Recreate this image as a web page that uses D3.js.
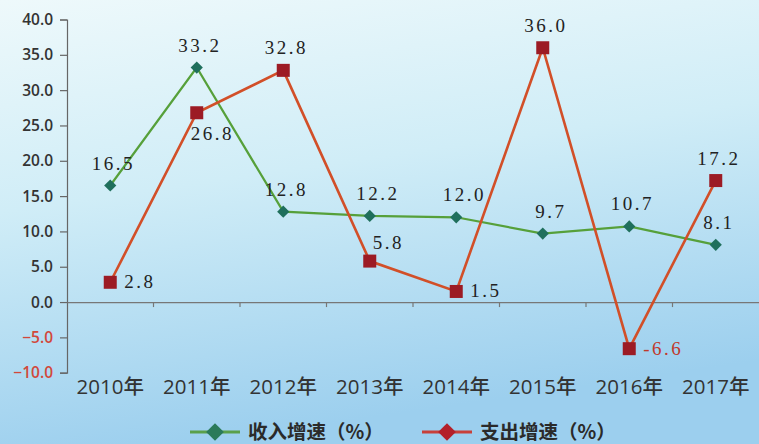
<!DOCTYPE html>
<html>
<head>
<meta charset="utf-8">
<script src="https://cdn.jsdelivr.net/npm/d3@7"></script>
<style>
  html, body { margin: 0; padding: 0; }
  svg { display: block; }
</style>
</head>
<body>
<svg id="chart" width="759" height="444"></svg>
<script>
// chart data
let years = ['2010年', '2011年', '2012年', '2013年', '2014年', '2015年', '2016年', '2017年'];
let incomeGrowth = [16.5, 33.2, 12.8, 12.2, 12.0, 9.7, 10.7, 8.1];
let spendGrowth = [2.8, 26.8, 32.8, 5.8, 1.5, 36.0, -6.6, 17.2];
let yTicks = [-10, -5, 0, 5, 10, 15, 20, 25, 30, 35, 40];
let seriesNames = ['收入增速（%）', '支出增速（%）'];
// where each value label sits around its point
let incomePlace = ['above', 'above', 'above', 'aboveR', 'aboveR', 'aboveR', 'above', 'above'];
let spendPlace = ['right', 'belowR', 'above', 'upRight', 'right', 'above', 'right', 'above'];

let svg = d3.select('#chart');
let W = 759, H = 444;

// background
let defs = svg.append('defs');
let grad = defs.append('linearGradient')
    .attr('id', 'bg')
    .attr('x1', 0).attr('y1', 0).attr('x2', 0.25).attr('y2', 1);
grad.append('stop').attr('offset', '0%').attr('stop-color', '#eef9fb');
grad.append('stop').attr('offset', '45%').attr('stop-color', '#d0edf7');
grad.append('stop').attr('offset', '100%').attr('stop-color', '#9ccfee');
svg.append('rect').attr('width', W).attr('height', H).attr('fill', 'url(#bg)');

let x = d3.scaleBand()
    .domain(years)
    .range([67, 759]);

let y = d3.scaleLinear()
    .domain([-10, 40])
    .range([372.7, 19.5]);

let cx = d => x(d) + x.bandwidth() / 2;
let axisFont = '"Open Sans", "Noto Sans CJK SC", sans-serif';

// y axis
let yAxis = svg.append('g')
    .attr('transform', 'translate(67,0)')
    .call(d3.axisLeft(y).tickValues(yTicks).tickSize(7).tickPadding(7)
        .tickFormat(d3.format('.1f')));
yAxis.select('.domain').attr('stroke', '#666').attr('stroke-width', 1.2);
yAxis.selectAll('.tick line').attr('stroke', '#666').attr('stroke-width', 1.2);
yAxis.selectAll('.tick text')
    .attr('font-family', axisFont)
    .attr('font-size', '15.5px')
    .attr('font-weight', 600)
    .attr('fill', d => d < 0 ? '#d2483a' : '#333');

// x axis along zero
let xAxis = svg.append('g')
    .attr('transform', `translate(0,${y(0)})`)
    .call(d3.axisBottom(x).tickSize(0).tickFormat(''));
xAxis.select('.domain').attr('stroke', '#777').attr('stroke-width', 1.2);
xAxis.selectAll('.tick').remove();
svg.append('g').selectAll('line')
    .data(years.slice(1))
    .enter()
    .append('line')
        .attr('x1', d => x(d)).attr('x2', d => x(d))
        .attr('y1', y(0)).attr('y2', y(0) + 5)
        .attr('stroke', '#777').attr('stroke-width', 1.2);

svg.append('g').selectAll('text')
    .data(years)
    .enter()
    .append('text')
        .attr('x', d => cx(d))
        .attr('y', 394)
        .attr('text-anchor', 'middle')
        .attr('font-family', axisFont)
        .attr('font-size', '20.5px')
        .attr('font-weight', 500)
        .attr('fill', '#333')
        .text(d => d);

// lines
const lineOf = vals => d3.line()
    .x((d, i) => cx(years[i]))
    .y(d => y(d))(vals);

svg.append('path')
    .attr('d', lineOf(incomeGrowth))
    .attr('fill', 'none')
    .attr('stroke', '#56a03a')
    .attr('stroke-width', 2.2);

svg.append('path')
    .attr('d', lineOf(spendGrowth))
    .attr('fill', 'none')
    .attr('stroke', '#d24f28')
    .attr('stroke-width', 2.6);

// markers
svg.append('g').selectAll('path')
    .data(incomeGrowth)
    .enter()
    .append('path')
        .attr('d', d3.symbol().type(d3.symbolDiamond2).size(95))
        .attr('transform', (d, i) => `translate(${cx(years[i])},${y(d)})`)
        .attr('fill', '#1f6f5c');

svg.append('g').selectAll('rect')
    .data(spendGrowth)
    .enter()
    .append('rect')
        .attr('x', (d, i) => cx(years[i]) - 6.5)
        .attr('y', d => y(d) - 6.5)
        .attr('width', 13).attr('height', 13)
        .attr('fill', '#9c1b24');

// value labels
function placeLabel(sel, place) {
    sel.attr('x', function(d, i) {
            let px = cx(years[i]);
            let p = place[i];
            if (p === 'above') return px + 3;
            if (p === 'aboveR') return px + 8;
            if (p === 'right') return px + 14;
            if (p === 'belowR') return px - 6;
            if (p === 'upRight') return px + 3;
            return px;
        })
        .attr('y', function(d, i) {
            let py = y(d);
            let p = place[i];
            if (p === 'above' || p === 'aboveR') return py - 16;
            if (p === 'right') return py + 6;
            if (p === 'belowR') return py + 27;
            if (p === 'upRight') return py - 12;
            return py;
        })
        .attr('text-anchor', (d, i) => (place[i] === 'above' || place[i] === 'aboveR') ? 'middle' : 'start');
}

let labelFont = 'Liberation Serif, "Times New Roman", serif';

svg.append('g').selectAll('text')
    .data(incomeGrowth)
    .enter()
    .append('text')
        .call(placeLabel, incomePlace)
        .attr('font-family', labelFont)
        .attr('font-size', '19px')
        .attr('letter-spacing', '2.5px')
        .attr('fill', '#222')
        .text(d => d.toFixed(1));

svg.append('g').selectAll('text')
    .data(spendGrowth)
    .enter()
    .append('text')
        .call(placeLabel, spendPlace)
        .attr('font-family', labelFont)
        .attr('font-size', '19px')
        .attr('letter-spacing', '2.5px')
        .attr('fill', d => d < 0 ? '#c0392b' : '#222')
        .text(d => d.toFixed(1));

// legend
let legendX = d3.scaleOrdinal().domain(seriesNames).range([190, 422]);
let legendLine = ['#5aa04a', '#c8413a'];
let legendMark = ['#2a7a5a', '#b3202a'];
let legendY = 432;

let lg = svg.append('g').selectAll('g')
    .data(seriesNames)
    .enter()
    .append('g')
        .attr('transform', d => `translate(${legendX(d)},${legendY})`);

lg.append('line')
    .attr('x1', 0).attr('x2', 50)
    .attr('y1', 0).attr('y2', 0)
    .attr('stroke', (d, i) => legendLine[i])
    .attr('stroke-width', 3);

lg.append('path')
    .attr('d', d3.symbol().type(d3.symbolDiamond2).size(200))
    .attr('transform', 'translate(25,0)')
    .attr('fill', (d, i) => legendMark[i]);

lg.append('text')
    .attr('x', 58)
    .attr('y', 7)
    .attr('font-family', '"Noto Sans CJK SC", sans-serif')
    .attr('font-size', '19.5px')
    .attr('font-weight', 600)
    .attr('fill', '#2a2a2a')
    .text(d => d);
</script>
</body>
</html>
